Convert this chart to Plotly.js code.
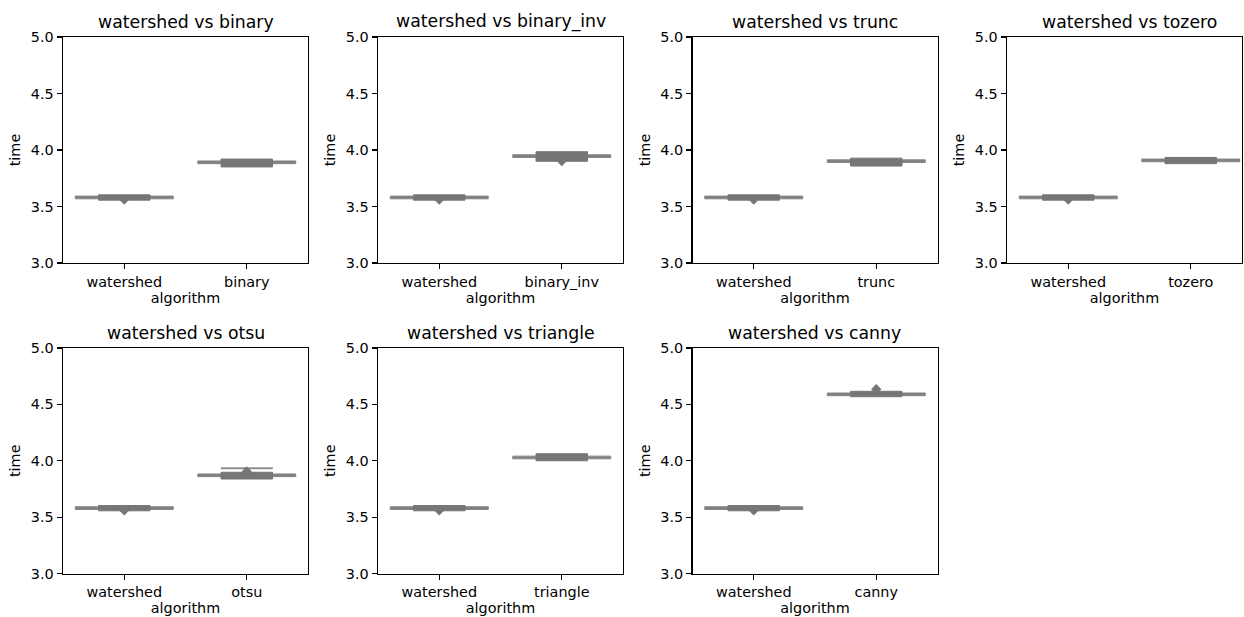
<!DOCTYPE html>
<html>
<head>
<meta charset="utf-8">
<script src="https://cdn.plot.ly/plotly-3.0.1.min.js"></script>
<style>html,body{margin:0;padding:0;background:#fff;}#chart{width:1244px;height:617px;}</style>
</head>
<body>
<div id="chart"></div>
<script>
// ---- data ----
const baseline = 'watershed';
const methods = ['binary', 'binary_inv', 'trunc', 'tozero', 'otsu', 'triangle', 'canny'];

// watershed letter-value boxes (same run in every panel)
const wsWideLo = 3.568, wsWideHi = 3.592;
const wsNarrowLo = 3.556, wsNarrowHi = 3.603;
const wsOutlier = 3.561;

// compared method letter-value boxes
const wideLo   = [3.879, 3.934, 3.889, 3.896, 3.859, 4.017, 4.577];
const wideHi   = [3.903, 3.958, 3.913, 3.920, 3.883, 4.041, 4.601];
const narrowLo = [3.850, 3.900, 3.858, 3.879, 3.838, 4.000, 4.568];
const narrowHi = [3.920, 3.985, 3.928, 3.934, 3.898, 4.062, 4.616];
// extra thin upper level (only otsu shows one)
const extraLo  = [null, null, null, null, 3.929, null, null];
const extraHi  = [null, null, null, null, 3.937, null, null];
// outliers of compared method
const outliers = [[], [3.902], [], [], [3.905], [], [4.634]];

const yTicks = [3.0, 3.5, 4.0, 4.5, 5.0];

// ---- layout geometry ----
const W = 1244, H = 617;
const colX = [[63, 308], [378, 623], [692.5, 937.5], [1007, 1252]];
const rowY = [[37, 263], [348, 573.5]];
const rightEdge = 1242;
const FONT = 'DejaVu Sans, Verdana, sans-serif';
const wideColor = '#808080', narrowColor = '#767676';

const traces = [];
const layout = {
  width: W, height: H,
  margin: {l: 0, r: 0, t: 0, b: 0},
  paper_bgcolor: '#fff', plot_bgcolor: '#fff',
  showlegend: false, barmode: 'overlay',
  font: {family: FONT, size: 14.4, color: '#000'},
  annotations: []
};

methods.forEach((m, i) => {
  const row = i < 4 ? 0 : 1, col = i < 4 ? i : i - 4;
  const n = i === 0 ? '' : String(i + 1);
  const xa = 'x' + n, ya = 'y' + n;
  const cats = [baseline, m];
  const [px0, px1] = colX[col];
  const [py0, py1] = rowY[row];
  const clip = Math.min(px1, rightEdge);
  const unit = (px1 - px0) / 2;
  const xr1 = 1.5 - (px1 - clip) / unit;

  traces.push({
    type: 'bar', x: cats, base: [wsWideLo, wideLo[i]],
    y: [wsWideHi - wsWideLo, wideHi[i] - wideLo[i]],
    width: 0.8, xaxis: xa, yaxis: ya,
    marker: {color: wideColor, line: {color: '#868686', width: 1}},
    hoverinfo: 'skip'
  });
  traces.push({
    type: 'bar', x: cats, base: [wsNarrowLo, narrowLo[i]],
    y: [wsNarrowHi - wsNarrowLo, narrowHi[i] - narrowLo[i]],
    width: 0.42, xaxis: xa, yaxis: ya,
    marker: {color: narrowColor, line: {color: narrowColor, width: 1}},
    hoverinfo: 'skip'
  });
  if (extraLo[i] !== null) {
    traces.push({
      type: 'bar', x: [m], base: [extraLo[i]], y: [extraHi[i] - extraLo[i]],
      width: 0.42, xaxis: xa, yaxis: ya,
      marker: {color: narrowColor, line: {color: narrowColor, width: 0.6}},
      hoverinfo: 'skip'
    });
  }
  const ox = [baseline].concat(outliers[i].map(() => m));
  const oy = [wsOutlier].concat(outliers[i]);
  traces.push({
    type: 'scatter', mode: 'markers', x: ox, y: oy, xaxis: xa, yaxis: ya,
    marker: {symbol: 'diamond', size: 8, color: narrowColor, line: {width: 0}},
    hoverinfo: 'skip'
  });

  const axCommon = {
    showgrid: false, zeroline: false, showline: true, mirror: true,
    linecolor: '#000', linewidth: 1.4, ticks: 'outside', ticklen: 5,
    tickwidth: 1.2, tickcolor: '#000',
    tickfont: {family: FONT, size: 14.4, color: '#000'}
  };
  layout['xaxis' + n] = Object.assign({}, axCommon, {
    domain: [px0 / W, clip / W], anchor: ya,
    type: 'category', categoryorder: 'array', categoryarray: cats,
    range: [-0.5, xr1],
    title: {text: 'algorithm', font: {family: FONT, size: 14.4, color: '#000'}, standoff: 3}
  });
  layout['yaxis' + n] = Object.assign({}, axCommon, {
    domain: [1 - py1 / H, 1 - py0 / H], anchor: xa,
    range: [3, 5], tickvals: yTicks, ticktext: yTicks.map(v => v.toFixed(1)),
    title: {text: 'time', font: {family: FONT, size: 14.4, color: '#000'}, standoff: 6}
  });
  layout.annotations.push({
    text: baseline + ' vs ' + m, xref: 'paper', yref: 'paper',
    x: ((px0 + px1) / 2) / W, y: 1 - py0 / H, xanchor: 'center', yanchor: 'bottom',
    yshift: 3, showarrow: false, font: {family: FONT, size: 17.3, color: '#000'}
  });
});

Plotly.newPlot('chart', traces, layout, {displayModeBar: false, staticPlot: true});
</script>
</body>
</html>
